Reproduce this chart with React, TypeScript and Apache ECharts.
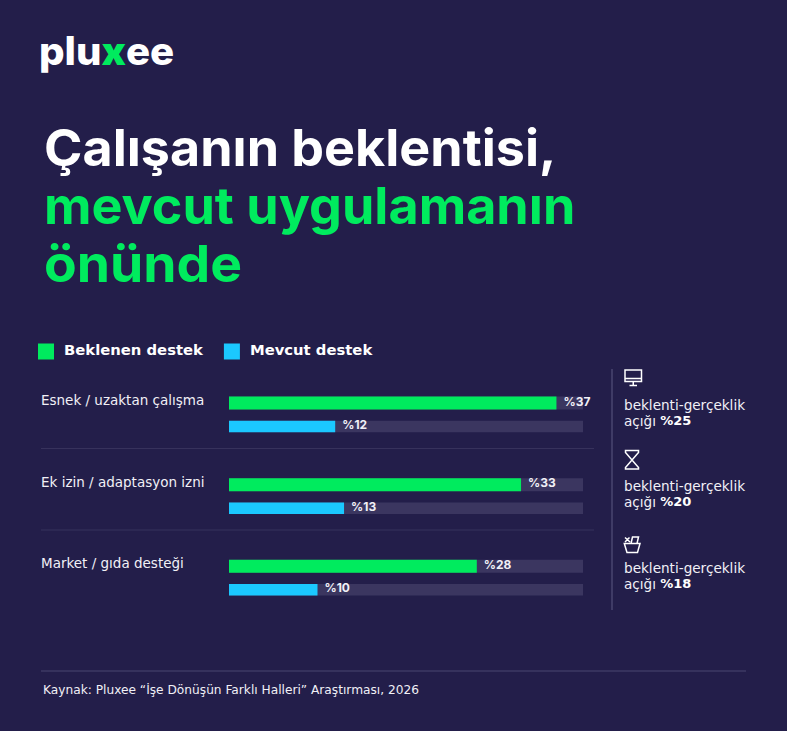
import React, { useEffect, useRef } from "react";
import * as echarts from "echarts";

const BG = "#231E4A";
const GREEN = "#00EB5E";
const BLUE = "#1BC8FF";
const TRACK = "#3B3660";
const RULE = "#37325C";
const RULE_STRONG = "#4A4670";
const WHITE = "#FFFFFF";
const SOFT = "#F1F0F6";
const FONT = "'DejaVu Sans'";
const TITLE_FONT = "Inter";

const categories = ["Esnek / uzaktan çalışma", "Ek izin / adaptasyon izni", "Market / gıda desteği"];
const expected = [37, 33, 28];
const current = [12, 13, 10];
const gaps = [25, 20, 18];
const seriesNames = ["Beklenen destek", "Mevcut destek"];
const AXIS_MAX = 40;
const gridTops = [390.15, 471.8, 553.3];
const gapTextTops = [405, 486, 568];

echarts.graphic.registerShape(
  "iconMonitor",
  echarts.graphic.extendPath("M1 1H17.5V12.5H1Z M1 9.5H17.5 M9.25 12.5V16.5 M5.5 16.5H13", {}) as any,
);
echarts.graphic.registerShape(
  "iconHourglass",
  echarts.graphic.extendPath("M1 1H14V3L1 18V19.5H14V18L1 3Z", {}) as any,
);
echarts.graphic.registerShape(
  "iconBasket",
  echarts.graphic.extendPath("M0.8 7.5H16.5L14 16.5H3.5Z M7.5 7.5L9 1H15L13.5 7.5 M1.5 1.5L6.5 6 M6 1.5L1.5 6", {}) as any,
);

function label(text: string, x: number, y: number, fontSize: number, fontWeight: any, fill: string, scaleX = 1, fontFamily = FONT) {
  return {
    type: "text",
    x,
    y,
    scaleX,
    silent: true,
    style: { text, x: 0, y: 0, fontFamily, fontSize, fontWeight, fill, textVerticalAlign: "middle" },
  };
}

function rule(x1: number, y1: number, x2: number, y2: number, stroke = RULE, lineWidth = 1) {
  return { type: "line", silent: true, shape: { x1, y1, x2, y2 }, style: { stroke, lineWidth } };
}

function App() {
  const ref = useRef<HTMLDivElement>(null);
  useEffect(() => {
    document.body.style.margin = "0";
    document.body.style.background = BG;
    const chart = echarts.init(ref.current!, undefined, { renderer: "svg" });

    const grid = gridTops.map((top) => ({ left: 229, width: 354, top, height: 48.6 }));
    const xAxis = gridTops.map((_, i) => ({ gridIndex: i, type: "value", min: 0, max: AXIS_MAX, show: false }));
    const yAxis = categories.map((c, i) => ({
      gridIndex: i,
      type: "category",
      inverse: true,
      data: [c, ""],
      axisLine: { show: false },
      axisTick: { show: false },
      axisLabel: {
        align: "left",
        margin: 188,
        formatter: (v: string) => (v ? `{a|${v}}` : ""),
        rich: {
          a: {
            color: SOFT,
            fontFamily: FONT,
            fontSize: 13.5,
            align: "left",
            padding: [0, 0, 4, 0],
          },
        },
      },
    }));

    const series: any[] = [];
    categories.forEach((_, i) => {
      const bar = { type: "bar", xAxisIndex: i, yAxisIndex: i, barGap: "-100%", silent: true };
      series.push(
        { ...bar, id: `trackA${i}`, barWidth: 13, data: [AXIS_MAX, null], itemStyle: { color: TRACK } },
        { ...bar, id: `trackB${i}`, barWidth: 11.5, data: [null, AXIS_MAX], itemStyle: { color: TRACK } },
      );
      const lab = {
        show: true,
        position: "right",
        distance: 7,
        offset: [0, -2],
        color: SOFT,
        fontFamily: TITLE_FONT,
        fontSize: 12,
        fontWeight: 700,
        formatter: (p: any) => `%${p.value}`,
      };
      series.push(
        { ...bar, name: seriesNames[0], barWidth: 13, data: [expected[i], null], itemStyle: { color: GREEN }, label: lab },
        { ...bar, name: seriesNames[1], barWidth: 11.5, data: [null, current[i]], itemStyle: { color: BLUE }, label: lab },
      );
    });

    const graphics: any[] = [
      {
        type: "text",
        x: 39,
        y: 51,
        scaleX: 1.03,
        silent: true,
        style: {
          text: "{w|plu}{g|x}{w|ee}",
          rich: {
            w: { fontFamily: "Inter", fontSize: 39, fontWeight: 800, fill: WHITE },
            g: { fontFamily: "Inter", fontSize: 39, fontWeight: 900, fill: GREEN },
          },
          textVerticalAlign: "middle",
        },
      },
      label("Çalışanın beklentisi,", 44, 147, 51, 700, WHITE, 1.02, TITLE_FONT),
      label("mevcut uygulamanın", 44, 205, 51, 700, GREEN, 1.021, TITLE_FONT),
      label("önünde", 44, 263, 51, 700, GREEN, 1.048, TITLE_FONT),
      rule(41, 448.5, 594, 448.5),
      rule(41, 530, 594, 530),
      rule(612, 369, 612, 610, RULE_STRONG, 1.5),
      rule(41, 671, 746, 671, RULE_STRONG),
      label("Kaynak: Pluxee “İşe Dönüşün Farklı Halleri” Araştırması, 2026", 43, 689.5, 12.2, 400, SOFT),
      { type: "iconMonitor", x: 624, y: 369, silent: true, style: { fill: "none", stroke: WHITE, lineWidth: 1.5 } },
      { type: "iconHourglass", x: 624.5, y: 449.5, silent: true, style: { fill: "none", stroke: WHITE, lineWidth: 1.5 } },
      { type: "iconBasket", x: 623.5, y: 536, silent: true, style: { fill: "none", stroke: WHITE, lineWidth: 1.5 } },
    ];
    gaps.forEach((g, i) => {
      graphics.push(label("beklenti-gerçeklik", 624, gapTextTops[i], 13.6, 400, SOFT));
      graphics.push({
        type: "text",
        x: 624,
        y: gapTextTops[i] + 15.5,
        silent: true,
        style: {
          text: `{a|açığı }{b|%${g}}`,
          rich: {
            a: { fontFamily: FONT, fontSize: 13.6, fill: SOFT },
            b: { fontFamily: FONT, fontSize: 13, fontWeight: "bold", fill: WHITE },
          },
          textVerticalAlign: "middle",
        },
      });
    });

    chart.setOption({
      animation: false,
      backgroundColor: BG,
      legend: {
        left: 38,
        top: 342,
        padding: 0,
        itemWidth: 16,
        itemHeight: 16,
        itemGap: 21,
        icon: "rect",
        data: [
          { name: seriesNames[0], itemStyle: { color: GREEN } },
          { name: seriesNames[1], itemStyle: { color: BLUE } },
        ],
        formatter: "{a|{name}}",
        textStyle: {
          rich: {
            a: { color: WHITE, fontFamily: FONT, fontSize: 14.8, fontWeight: "bold", padding: [0, 0, 4, 5] },
          },
        },
      },
      grid,
      xAxis,
      yAxis,
      series,
      graphic: { elements: graphics },
    });
    return () => chart.dispose();
  }, []);
  return <div ref={ref} style={{ width: 787, height: 731 }} />;
}

export default App;
